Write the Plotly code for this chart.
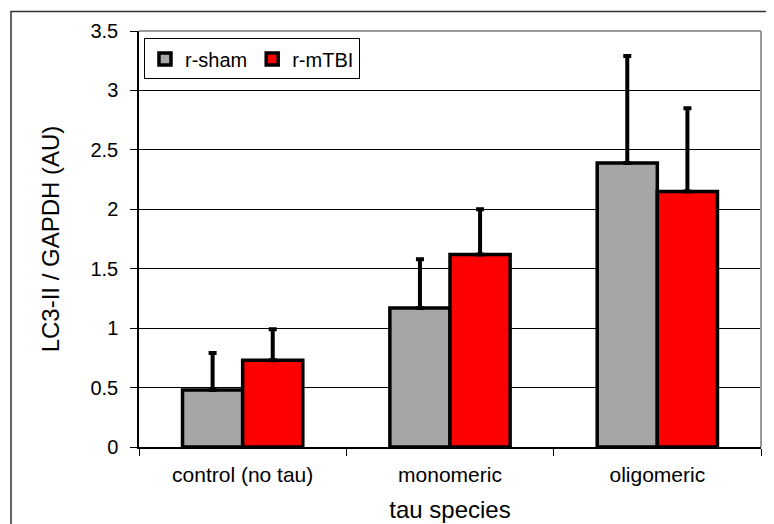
import plotly.graph_objects as go

categories = ["control (no tau)", "monomeric", "oligomeric"]
sham_values = [0.48, 1.17, 2.39]
sham_err = [0.31, 0.41, 0.90]
mtbi_values = [0.73, 1.62, 2.15]
mtbi_err = [0.26, 0.38, 0.70]
y_ticks = [0, 0.5, 1, 1.5, 2, 2.5, 3, 3.5]
y_tick_labels = ["0", "0.5", "1", "1.5", "2", "2.5", "3", "3.5"]

FONT = "Liberation Sans, Arial, sans-serif"

fig = go.Figure()
fig.add_trace(go.Bar(
    name="r-sham", x=categories, y=sham_values,
    marker=dict(color="#A6A6A6", line=dict(color="black", width=3.5)),
    error_y=dict(type="data", symmetric=False, array=sham_err,
                 arrayminus=[0] * len(sham_err), color="black", thickness=4, width=4),
))
fig.add_trace(go.Bar(
    name="r-mTBI", x=categories, y=mtbi_values,
    marker=dict(color="#FF0000", line=dict(color="black", width=3.5)),
    error_y=dict(type="data", symmetric=False, array=mtbi_err,
                 arrayminus=[0] * len(mtbi_err), color="black", thickness=4, width=4),
))

fig.update_layout(
    width=774, height=524,
    margin=dict(l=131, r=21, t=17, b=85),
    paper_bgcolor="white", plot_bgcolor="white",
    font=dict(family=FONT, size=20, color="black"),
    barmode="group", bargap=0.42, bargroupgap=0,
    showlegend=True,
    legend=dict(
        orientation="h", x=0.008, y=0.982, xanchor="left", yanchor="top",
        bgcolor="white", bordercolor="black", borderwidth=1,
        font=dict(family=FONT, size=20), itemwidth=30, tracegroupgap=0,
    ),
    xaxis=dict(
        title=dict(text="tau species", font=dict(size=24), standoff=16),
        showline=True, linecolor="black", linewidth=1.5, mirror=False,
        ticks="outside", ticklen=7, tickcolor="black", tickson="boundaries",
        ticklabelstandoff=8,
        showgrid=False, tickfont=dict(size=21),
    ),
    yaxis=dict(
        title=dict(text="LC3-II / GAPDH (AU)", font=dict(size=24), standoff=24),
        range=[0, 3.5], tickvals=y_ticks, ticktext=y_tick_labels,
        showline=True, linecolor="black", linewidth=1.5,
        ticks="outside", ticklen=7, tickcolor="black", ticklabelstandoff=8,
        showgrid=True, gridcolor="black", gridwidth=1,
        zeroline=False, tickfont=dict(size=20),
    ),
    shapes=[
        # plot area top/right border (gray)
        dict(type="line", xref="paper", yref="paper", x0=0, x1=1, y0=1, y1=1,
             line=dict(color="#999999", width=2)),
        dict(type="line", xref="paper", yref="paper", x0=1, x1=1, y0=0, y1=1,
             line=dict(color="#999999", width=2)),
        # outer chart frame
        dict(type="rect", xref="paper", yref="paper",
             x0=-0.2058, x1=1.016, y0=-0.25, y1=1.047,
             line=dict(color="#333333", width=1.5), layer="below"),
    ],
)

fig.write_html("out.html")
